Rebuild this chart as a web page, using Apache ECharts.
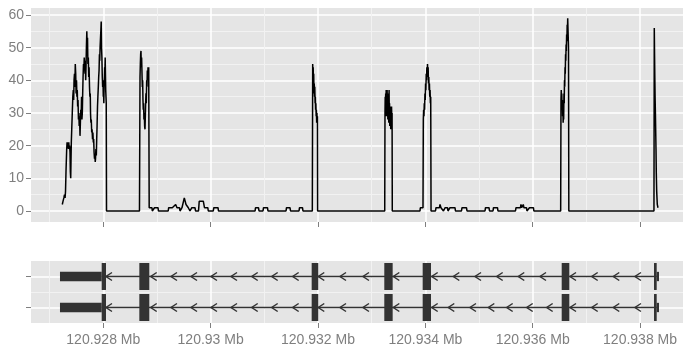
<!DOCTYPE html>
<html>
<head>
<meta charset="utf-8">
<script src="https://cdn.jsdelivr.net/npm/echarts@6/dist/echarts.min.js"></script>
<style>
  html, body { margin: 0; padding: 0; background: #fff; }
  #chart { width: 684px; height: 350px; }
</style>
</head>
<body>
<div id="chart"></div>
<script>
// positions are bp offsets from 120,928,000 (chr coordinate)
var origin = 120928000;

// read coverage (bp offset, depth)
var covOffset = [
  -764, -750, -735, -723, -712, -704, -695, -682, -675, -668, -658, -650, -643, -636, -628, -620,
  -614, -607, -602, -596, -588, -578, -568, -559, -552, -545, -537, -530, -522, -514, -507, -499,
  -492, -485, -478, -471, -463, -456, -449, -442, -434, -427, -420, -412, -405, -398, -391, -384,
  -377, -369, -362, -355, -348, -341, -335, -328, -321, -315, -307, -300, -294, -287, -279, -272,
  -265, -257, -250, -243, -238, -231, -224, -216, -209, -201, -194, -186, -179, -172, -164, -157,
  -150, -145, -138, -130, -123, -116, -108, -101, -93, -86, -79, -72, -67, -60, -52, -46,
  -39, -33, -26, -19, -12, -6, 0, 4, 10, 15, 19, 25, 30, 35, 40, 45, 50, 55, 60,
  674, 684, 690, 696, 702, 708, 714, 721, 727, 733, 739, 745, 751, 757, 764, 770, 777, 783, 789,
  795, 801, 808, 814, 820, 827, 833, 840, 846, 855,
  907, 913, 945, 954, 1019, 1028, 1209, 1218, 1285, 1298, 1348, 1373, 1420, 1429, 1457, 1466,
  1485, 1509, 1541, 1584, 1606, 1615, 1639, 1649, 1708, 1718, 1774, 1787, 1863, 1885, 1947, 1956,
  2049, 2059, 2137, 2146,
  2828, 2835, 2891, 2901, 2975, 2985, 3059, 3068, 3404, 3413, 3478, 3488, 3646, 3655, 3711, 3720,
  3894, 3901, 3906, 3910, 3916, 3920, 3925, 3930, 3935, 3940, 3946, 3950, 3955, 3960, 3966, 3970,
  3975, 3980, 3985, 3990, 3993,
  5243, 5248, 5252, 5256, 5261, 5265, 5270, 5274, 5279, 5283, 5288, 5292, 5297, 5301, 5306, 5310,
  5315, 5319, 5324, 5328, 5333, 5337, 5342, 5346, 5351, 5355, 5360, 5365, 5370, 5375, 5380, 5384,
  5900, 5906, 5956, 5962, 5968, 5974, 5980, 5986, 5992, 5998, 6004, 6010, 6016, 6022, 6028, 6034,
  6040, 6046, 6052, 6058, 6064, 6070, 6076, 6082, 6088, 6094, 6100, 6106,
  6189, 6198, 6263, 6273, 6291, 6328, 6338, 6356, 6366, 6413, 6422, 6450, 6459, 6552, 6561,
  6673, 6683, 6766, 6776, 7111, 7120, 7186, 7195, 7260, 7269, 7344, 7353,
  7679, 7689, 7772, 7781, 7794, 7813, 7824, 7837, 7884, 7893, 7930, 7939, 8013, 8022,
  8521, 8527, 8532, 8537, 8542, 8547, 8552, 8557, 8562, 8567, 8572, 8577, 8582, 8587, 8592, 8597,
  8602, 8607, 8612, 8617, 8622, 8627, 8632, 8637, 8642, 8647, 8652, 8657, 8662, 8667, 8673,
  10259, 10265, 10270, 10275, 10280, 10286, 10291, 10297, 10302, 10310, 10321, 10334
];
var covDepth = [
  2, 3, 4, 5, 4, 6, 12, 19, 21, 20, 21, 19, 21, 19, 20, 18,
  12, 10, 15, 21, 25, 30, 35, 37, 34, 40, 42, 38, 45, 42, 36, 40,
  35, 37, 32, 34, 28, 30, 26, 29, 23, 27, 31, 29, 35, 28, 30, 36,
  41, 45, 43, 47, 44, 42, 46, 40, 45, 50, 55, 50, 53, 45, 47, 41,
  44, 38, 35, 36, 30, 27, 28, 24, 25, 22, 24, 21, 22, 18, 16, 17,
  15, 16, 19, 17, 22, 26, 32, 35, 38, 41, 43, 48, 46, 50, 53, 55,
  58, 50, 47, 41, 38, 40, 35, 37, 33, 38, 40, 44, 42, 47, 42, 37, 35, 33, 0,
  0, 41, 45, 48, 49, 44, 47, 42, 38, 40, 34, 31, 33, 28, 30, 26, 25, 29, 33,
  36, 33, 40, 38, 43, 40, 44, 41, 44, 1,
  1, 0, 0, 1, 1, 0, 0, 1, 1, 1, 2, 1, 1, 0, 0, 1,
  1, 4, 2, 1, 1, 0, 0, 1, 1, 0, 0, 3, 3, 1, 1, 0,
  0, 1, 1, 0,
  0, 1, 1, 0, 0, 1, 1, 0, 0, 1, 1, 0, 0, 1, 1, 0,
  0, 45, 41, 44, 39, 42, 36, 39, 35, 38, 33, 35, 31, 33, 29, 31,
  27, 30, 27, 29, 0,
  0, 30, 35, 29, 36, 31, 37, 30, 34, 29, 37, 31, 36, 28, 35, 30,
  33, 27, 37, 30, 33, 26, 32, 28, 31, 25, 30, 27, 32, 28, 30, 0,
  0, 1, 1, 28, 31, 29, 33, 31, 36, 34, 39, 37, 42, 40, 44, 41,
  45, 42, 44, 39, 41, 37, 39, 35, 37, 33, 35, 0,
  0, 1, 1, 2, 1, 1, 0, 0, 1, 1, 0, 0, 1, 1, 0,
  0, 1, 1, 0, 0, 1, 1, 0, 0, 1, 1, 0,
  0, 1, 1, 2, 1, 1, 2, 1, 1, 0, 0, 1, 1, 0,
  0, 34, 37, 33, 36, 31, 34, 29, 33, 27, 31, 28, 36, 33, 40, 38,
  44, 42, 48, 46, 51, 49, 54, 52, 57, 55, 59, 56, 53, 50, 0,
  0, 56, 48, 41, 35, 30, 25, 19, 12, 6, 2, 1
];

var depthTicks = [0, 10, 20, 30, 40, 50, 60];
var depthMinor = [5, 15, 25, 35, 45, 55];
var mbTicks = [120928000, 120930000, 120932000, 120934000, 120936000, 120938000];
var mbMinor = [120927000, 120929000, 120931000, 120933000, 120935000, 120937000];

// gene model, two transcripts (rows)
var rows = [1, 2];
var utrs = [[-807, -30], [10310, 10353]];
var exons = [[-30, 50], [671, 857], [3882, 4005], [5235, 5391], [5950, 6105], [8540, 8682], [10260, 10310]];
var introns = [[-30, 10310]];
var arrowsRow1 = [50, 883, 1261, 1634, 2006, 2379, 2765, 3137, 3528, 4005, 4410, 4838, 5403,
  6118, 6521, 6925, 7329, 7731, 8136, 8695, 9099, 9501, 9905];
var arrowsRow2 = [50, 883, 1261, 1634, 2006, 2379, 2765, 3137, 3528, 4005, 4410, 4838, 5403,
  6118, 6427, 6831, 7173, 7515, 7888, 8260, 8695, 9099, 9501, 9905];

var xMin = 120926653, xMax = 120938800;
var grey50 = '#7f7f7f';
var font = "'Liberation Sans Narrow', 'Liberation Sans', Arial, sans-serif";

var coverage = covOffset.map(function (o, i) { return [origin + o, covDepth[i]]; });

function blocks(list) {
  var out = [];
  rows.forEach(function (r) {
    list.forEach(function (b) { out.push([origin + b[0], origin + b[1], r]); });
  });
  return out;
}
var arrowData = arrowsRow1.map(function (a) { return [origin + a, 1]; })
  .concat(arrowsRow2.map(function (a) { return [origin + a, 2]; }));

function rectItem(half) {
  return function (params, api) {
    var p1 = api.coord([api.value(0), api.value(2) - half]);
    var p2 = api.coord([api.value(1), api.value(2) + half]);
    return {
      type: 'rect',
      shape: { x: p1[0], y: Math.min(p1[1], p2[1]), width: p2[0] - p1[0], height: Math.abs(p2[1] - p1[1]) },
      style: { fill: '#333333' }
    };
  };
}

function xAxisOf(gridIndex, values, major, labels) {
  return {
    type: 'value', gridIndex: gridIndex, min: xMin, max: xMax, position: 'bottom',
    axisLine: { show: false, onZero: false },
    axisTick: { show: major, customValues: values, length: 5, lineStyle: { color: grey50 } },
    axisLabel: {
      show: labels, customValues: values, margin: 10, color: grey50, fontFamily: font, fontSize: 14,
      formatter: function (v) { return (v / 1e6) + ' Mb'; }
    },
    splitLine: { show: true, lineStyle: { color: major ? '#ffffff' : '#f2f2f2', width: major ? 1.5 : 1 } }
  };
}

function yAxisOf(gridIndex, min, max, values, major, labels, inverse) {
  return {
    type: 'value', gridIndex: gridIndex, min: min, max: max, inverse: !!inverse,
    axisLine: { show: false, onZero: false },
    axisTick: { show: major, customValues: values, length: 5, lineStyle: { color: grey50 } },
    axisLabel: { show: labels, customValues: values, margin: 7, color: grey50, fontFamily: font, fontSize: 14 },
    splitLine: { show: true, lineStyle: { color: major ? '#ffffff' : '#f2f2f2', width: major ? 1.5 : 1 } }
  };
}

var chart = echarts.init(document.getElementById('chart'));
chart.setOption({
  animation: false,
  grid: [
    { left: 31, right: 1, top: 8, height: 214, show: true, backgroundColor: '#e5e5e5', borderWidth: 0 },
    { left: 31, right: 1, top: 261, height: 62, show: true, backgroundColor: '#e5e5e5', borderWidth: 0 }
  ],
  xAxis: [
    xAxisOf(0, mbTicks, true, false),
    xAxisOf(0, mbMinor, false, false),
    xAxisOf(1, mbTicks, true, true),
    xAxisOf(1, mbMinor, false, false)
  ],
  yAxis: [
    yAxisOf(0, -3.37, 62.14, depthTicks, true, true),
    yAxisOf(0, -3.37, 62.14, depthMinor, false, false),
    yAxisOf(1, 0.5, 2.5, rows, true, false, true),
    yAxisOf(1, 0.5, 2.5, [1.5], false, false, true)
  ],
  series: [
    {
      type: 'line', xAxisIndex: 0, yAxisIndex: 0, data: coverage,
      showSymbol: false, symbol: 'none', lineStyle: { color: '#000', width: 1.5 }
    },
    {
      type: 'custom', xAxisIndex: 2, yAxisIndex: 2, data: blocks(introns),
      encode: { x: [0, 1], y: 2 },
      renderItem: function (params, api) {
        var a = api.coord([api.value(0), api.value(2)]);
        var b = api.coord([api.value(1), api.value(2)]);
        return { type: 'line', shape: { x1: a[0], y1: a[1], x2: b[0], y2: b[1] },
          style: { stroke: '#333333', lineWidth: 1.5 } };
      }
    },
    {
      type: 'custom', xAxisIndex: 2, yAxisIndex: 2, data: arrowData,
      encode: { x: 0, y: 1 },
      renderItem: function (params, api) {
        var p = api.coord([api.value(0), api.value(1)]);
        return { type: 'polyline',
          shape: { points: [[p[0] + 6, p[1] - 4], [p[0], p[1]], [p[0] + 6, p[1] + 4]] },
          style: { stroke: '#333333', lineWidth: 1.5, fill: null } };
      }
    },
    {
      type: 'custom', xAxisIndex: 2, yAxisIndex: 2, data: blocks(utrs),
      encode: { x: [0, 1], y: 2 }, renderItem: rectItem(0.15)
    },
    {
      type: 'custom', xAxisIndex: 2, yAxisIndex: 2, data: blocks(exons),
      encode: { x: [0, 1], y: 2 }, renderItem: rectItem(0.435)
    }
  ]
});
</script>
</body>
</html>
